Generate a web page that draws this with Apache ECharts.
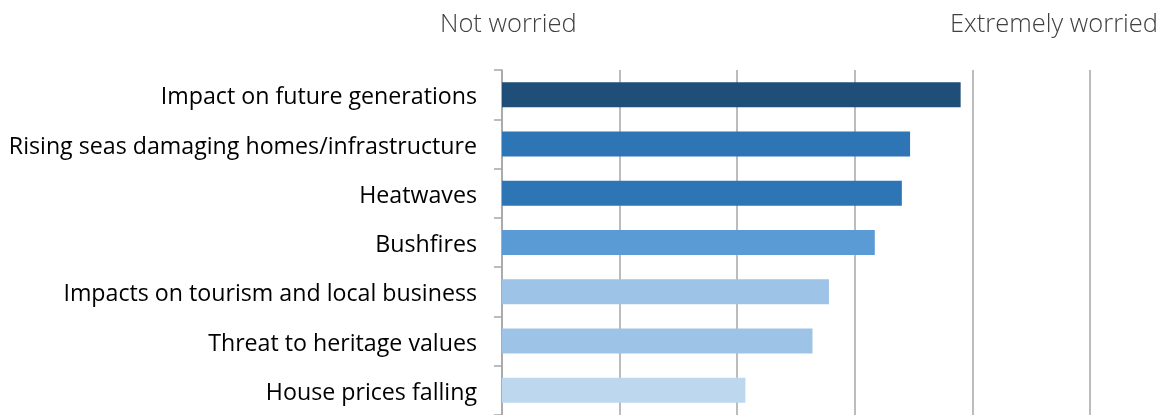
<!DOCTYPE html>
<html>
<head>
<meta charset="utf-8">
<script src="https://cdn.jsdelivr.net/npm/echarts@6/dist/echarts.min.js"></script>
<style>
html,body{margin:0;padding:0;background:#fff;}
#chart{width:1171px;height:415px;}
</style>
</head>
<body>
<div id="chart"></div>
<script>
const categories = [
  "Impact on future generations",
  "Rising seas damaging homes/infrastructure",
  "Heatwaves",
  "Bushfires",
  "Impacts on tourism and local business",
  "Threat to heritage values",
  "House prices falling"
];
const values = [3.90, 3.47, 3.40, 3.17, 2.78, 2.64, 2.07];
const barColors = ["#1F4E79", "#2E75B6", "#2E75B6", "#5B9BD5", "#9DC3E6", "#9DC3E6", "#BDD7EE"];
const scaleLabels = ["Not worried", "Extremely worried"];

const chart = echarts.init(document.getElementById('chart'));
chart.setOption({
  animation: false,
  grid: { left: 502, right: 81, top: 70, height: 350, containLabel: false },
  xAxis: {
    type: 'value', min: 0, max: 5, interval: 1,
    axisLabel: { show: false },
    axisLine: { show: false },
    axisTick: { show: false },
    splitLine: { show: true, lineStyle: { color: '#A6A6A6', width: 1.5 } }
  },
  yAxis: {
    type: 'category', inverse: true, data: categories,
    axisLine: { show: true, lineStyle: { color: '#A6A6A6', width: 1.5 } },
    axisTick: { show: true, length: 8, lineStyle: { color: '#A6A6A6', width: 1.5 } },
    axisLabel: {
      margin: 25,
      formatter: v => '{t|' + v + '}',
      rich: { t: { color: '#000', fontFamily: 'Open Sans', fontSize: 23.2, padding: [6, 0, 0, 0] } }
    },
    splitLine: { show: false }
  },
  series: [{
    type: 'bar',
    data: values.map((v, i) => ({ value: v, itemStyle: { color: barColors[i] } })),
    barWidth: 25
  }],
  graphic: [
    { type: 'text', left: 440, top: 12, style: { text: scaleLabels[0], fontFamily: 'Open Sans', fontWeight: 300, fontSize: 25.5, fill: '#404040' } },
    { type: 'text', left: 950, top: 12, style: { text: scaleLabels[1], fontFamily: 'Open Sans', fontWeight: 300, fontSize: 25.5, fill: '#404040' } }
  ]
});
</script>
</body>
</html>
